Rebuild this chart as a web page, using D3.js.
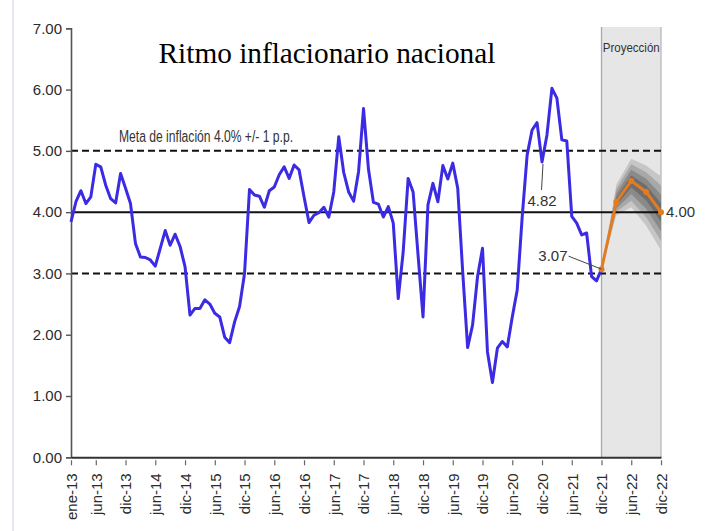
<!DOCTYPE html>
<html>
<head>
<meta charset="utf-8">
<script src="https://cdn.jsdelivr.net/npm/d3@7"></script>
<style>
  html, body { margin: 0; padding: 0; background: #fff; }
  svg { display: block; }
</style>
</head>
<body>
<svg id="chart" width="707" height="531"></svg>
<script>
// ---------- DATA ----------
const monthNames = ["ene","feb","mar","abr","may","jun","jul","ago","sep","oct","nov","dic"];
const years = ["13","14","15","16","17","18","19","20","21","22"];
const months = [];
years.forEach(y => monthNames.forEach(m => months.push(m + "-" + y)));

// Observed inflation, ene-13 .. dic-21
const inflation = [
  3.84, 4.17, 4.35, 4.14, 4.25, 4.78, 4.74, 4.44, 4.22, 4.15, 4.63, 4.39,
  4.14, 3.49, 3.27, 3.26, 3.22, 3.12, 3.41, 3.70, 3.46, 3.64, 3.44, 3.11,
  2.32, 2.43, 2.43, 2.57, 2.50, 2.35, 2.29, 1.96, 1.87, 2.21, 2.46, 3.00,
  4.37, 4.28, 4.26, 4.08, 4.35, 4.41, 4.61, 4.74, 4.55, 4.77, 4.69, 4.25,
  3.83, 3.95, 3.99, 4.08, 3.92, 4.33, 5.23, 4.65, 4.33, 4.18, 4.66, 5.69,
  4.70, 4.16, 4.13, 3.92, 4.09, 3.82, 2.59, 3.35, 4.55, 4.33, 3.30, 2.29,
  4.12, 4.47, 4.17, 4.76, 4.54, 4.80, 4.39, 3.03, 1.79, 2.16, 2.95, 3.41,
  1.72, 1.22, 1.78, 1.89, 1.80, 2.29, 2.73, 3.92, 4.93, 5.34, 5.46, 4.82,
  5.26, 6.02, 5.86, 5.18, 5.16, 3.93, 3.82, 3.63, 3.66, 2.95, 2.88, 3.07
];

// Projection (central path) and fan outer bounds
const projMonths = ["dic-21", "mar-22", "jun-22", "sep-22", "dic-22"];
const projValues = [3.07, 4.17, 4.51, 4.33, 4.00];
const fanUpper   = [3.07, 4.45, 4.87, 4.76, 4.58];
const fanLower   = [3.07, 3.95, 4.08, 3.78, 3.38];

const xTickLabels = ["ene-13","jun-13","dic-13","jun-14","dic-14","jun-15","dic-15",
  "jun-16","dic-16","jun-17","dic-17","jun-18","dic-18","jun-19","dic-19",
  "jun-20","dic-20","jun-21","dic-21","jun-22","dic-22"];
const yTicks = [0, 1, 2, 3, 4, 5, 6, 7];

const targetCenter = 4.0;
const targetLow = 3.0;
const targetHigh = 5.0;

const labelledPoints = [
  { month: "dic-20", value: 4.82 },
  { month: "dic-21", value: 3.07 }
];

// ---------- CHART ----------
const svg = d3.select("#chart");
const x = d3.scalePoint().domain(months).range([71, 661]);
const y = d3.scaleLinear().domain([0, 7]).range([457.3, 28.3]);
const x0 = 71, x1 = 661;

svg.append("rect").attr("width", 707).attr("height", 531).attr("fill", "#fff");

// faint left frame line
svg.append("line").attr("x1", 13).attr("x2", 13).attr("y1", 0).attr("y2", 531)
  .attr("stroke", "#d3d9e6").attr("stroke-width", 1.2);

// projection background
const px0 = x("dic-21"), px1 = x("dic-22");
svg.append("rect").attr("x", px0).attr("y", 27).attr("width", px1 - px0).attr("height", y(0) - 27)
  .attr("fill", "#e6e6e6");
svg.append("line").attr("x1", px0).attr("x2", px0).attr("y1", 27).attr("y2", y(0))
  .attr("stroke", "#a8a8a8").attr("stroke-width", 1.3);
svg.append("line").attr("x1", px1).attr("x2", px1).attr("y1", 27).attr("y2", y(0))
  .attr("stroke", "#b8b8b8").attr("stroke-width", 1.3);
svg.append("text").attr("x", (px0 + px1) / 2).attr("y", 52).attr("text-anchor", "middle")
  .attr("font-family", "Liberation Sans, Arial, sans-serif").attr("font-size", 12)
  .attr("textLength", 57).attr("lengthAdjust", "spacingAndGlyphs")
  .attr("fill", "#333").text("Proyección");

// fan chart bands
const fanLevels = [1.0, 0.75, 0.5, 0.25];
const fanColors = ["#c6c6c6", "#a8a8a8", "#8a8a8a", "#6e6e6e"];
fanLevels.forEach((f, k) => {
  const area = d3.area()
    .x((d, i) => x(projMonths[i]))
    .y0((d, i) => y(projValues[i] - f * (projValues[i] - fanLower[i])))
    .y1((d, i) => y(projValues[i] + f * (fanUpper[i] - projValues[i])));
  svg.append("path").datum(projValues).attr("d", area).attr("fill", fanColors[k]);
});

// target lines
[targetHigh, targetLow].forEach(v => {
  svg.append("line").attr("x1", x0).attr("x2", x1).attr("y1", y(v)).attr("y2", y(v))
    .attr("stroke", "#111").attr("stroke-width", 2).attr("stroke-dasharray", "7,4");
});
svg.append("line").attr("x1", x0).attr("x2", x1).attr("y1", y(targetCenter)).attr("y2", y(targetCenter))
  .attr("stroke", "#111").attr("stroke-width", 2);

// axes
const yAxis = d3.axisLeft(y).tickValues(yTicks).tickFormat(d3.format(".2f")).tickSize(5).tickPadding(4);
const gy = svg.append("g").attr("transform", `translate(${x0},0)`).call(yAxis);
gy.select(".domain").attr("stroke", "#555").attr("stroke-width", 1.6);
gy.selectAll(".tick line").attr("stroke", "#555").attr("stroke-width", 1.4);
gy.selectAll(".tick text").attr("font-family", "Liberation Sans, Arial, sans-serif")
  .attr("font-size", 15).attr("fill", "#2b2b2b");

const xAxis = d3.axisBottom(x).tickValues(xTickLabels).tickSize(0).tickPadding(0);
const gx = svg.append("g").attr("transform", `translate(0,${y(0)})`).call(xAxis);
gx.select(".domain").attr("stroke", "#333").attr("stroke-width", 2);
gx.selectAll(".tick").append("line").attr("y1", 3).attr("y2", 8)
  .attr("stroke", "#666").attr("stroke-width", 1.2);
gx.selectAll(".tick text")
  .attr("font-family", "Liberation Sans, Arial, sans-serif").attr("font-size", 15).attr("fill", "#2b2b2b")
  .attr("text-anchor", "end").attr("transform", "translate(0,16) rotate(-90)")
  .attr("x", 0).attr("y", 0).attr("dy", "0.36em");

// observed line
const line = d3.line().x((d, i) => x(months[i])).y(d => y(d));
svg.append("path").datum(inflation).attr("d", line)
  .attr("fill", "none").attr("stroke", "#3b2be3").attr("stroke-width", 3)
  .attr("stroke-linejoin", "round");

// projection line
const pline = d3.line().x((d, i) => x(projMonths[i])).y(d => y(d));
svg.append("path").datum(projValues).attr("d", pline)
  .attr("fill", "none").attr("stroke", "#e37b22").attr("stroke-width", 3);
svg.selectAll(".pdot").data(projValues).enter().append("circle")
  .attr("cx", (d, i) => x(projMonths[i])).attr("cy", d => y(d)).attr("r", 3)
  .attr("fill", "#e37b22");

// data labels
const fontLbl = "Liberation Sans, Arial, sans-serif";
const p1 = labelledPoints[0];
svg.append("line").attr("x1", x(p1.month) + 1).attr("y1", y(p1.value) + 2)
  .attr("x2", x(p1.month) - 0.5).attr("y2", y(p1.value) + 28)
  .attr("stroke", "#444").attr("stroke-width", 1);
svg.append("text").attr("x", x(p1.month)).attr("y", y(p1.value) + 44).attr("text-anchor", "middle")
  .attr("font-family", fontLbl).attr("font-size", 15).attr("fill", "#333").text(p1.value.toFixed(2));

const p2 = labelledPoints[1];
svg.append("line").attr("x1", x(p2.month) - 33).attr("y1", y(p2.value) - 13)
  .attr("x2", x(p2.month)).attr("y2", y(p2.value))
  .attr("stroke", "#444").attr("stroke-width", 1);
svg.append("text").attr("x", x(p2.month) - 34).attr("y", y(p2.value) - 8).attr("text-anchor", "end")
  .attr("font-family", fontLbl).attr("font-size", 15).attr("fill", "#333").text(p2.value.toFixed(2));

svg.append("text").attr("x", x("dic-22") + 5).attr("y", y(projValues[4]) + 5)
  .attr("font-family", fontLbl).attr("font-size", 15).attr("fill", "#333")
  .text(projValues[4].toFixed(2));

// target annotation
svg.append("text").attr("x", 119).attr("y", 142).attr("font-family", fontLbl)
  .attr("font-size", 16).attr("textLength", 174).attr("lengthAdjust", "spacingAndGlyphs")
  .attr("fill", "#333").text("Meta de inflación 4.0% +/- 1 p.p.");

// title
svg.append("text").attr("x", 327).attr("y", 63).attr("text-anchor", "middle")
  .attr("font-family", "Liberation Serif, Times New Roman, serif").attr("font-size", 29.3)
  .attr("fill", "#000").text("Ritmo inflacionario nacional");
</script>
</body>
</html>
